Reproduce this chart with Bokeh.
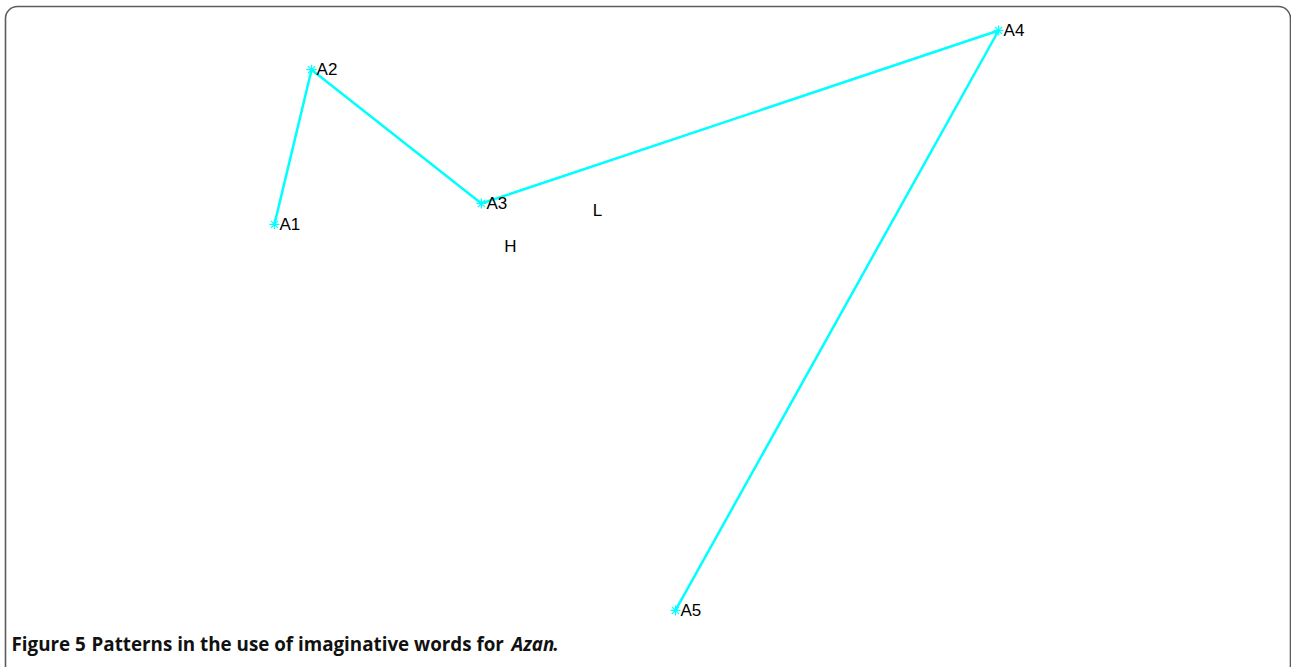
from bokeh.plotting import figure
from bokeh.models import Range1d, BoxAnnotation, ColumnDataSource
from bokeh.core.properties import value
from bokeh.embed import file_html
from bokeh.resources import INLINE

# Two-dimensional configuration of the five pattern points
point_names = ["A1", "A2", "A3", "A4", "A5"]
dim1 = [-0.921, -0.829, -0.408, 0.874, 0.073]
dim2 = [0.263, 0.634, 0.313, 0.728, -0.663]

# Reference markers shown as plain letters
marker_names = ["H", "L"]
marker_dim1 = [-0.336, -0.120]
marker_dim2 = [0.210, 0.296]

caption_parts = ["Figure 5", "Patterns in the use of imaginative words for", "Azan", "."]

W, H = 1291, 667
X0, X1 = -1.6, 1.6
Y0, Y1 = -0.8, 0.8


def sx(px):
    return X0 + (X1 - X0) * px / W


def sy(py):
    return Y1 - (Y1 - Y0) * py / H


p = figure(width=W, height=H, output_backend="svg", toolbar_location=None,
           x_range=Range1d(X0, X1), y_range=Range1d(Y0, Y1),
           min_border=0, min_border_left=0, min_border_right=0,
           min_border_top=0, min_border_bottom=0)
p.axis.visible = False
p.grid.visible = False
p.outline_line_color = None
p.background_fill_color = "white"
p.border_fill_color = "white"

# rounded frame around the figure panel
frame = BoxAnnotation(left=sx(5), right=sx(1290), top=sy(6), bottom=sy(700),
                      fill_alpha=0, line_color="#5c5c5c", line_alpha=1.0,
                      line_width=1.6, border_radius=12)
p.add_layout(frame)

src = ColumnDataSource(dict(x=dim1, y=dim2, name=point_names))
p.line("x", "y", source=src, line_color="#00FFFF", line_width=2.5)
p.scatter("x", "y", source=src, marker="asterisk", size=10,
          line_color="#00FFFF", line_width=1.2)
p.text("x", "y", text="name", source=src, x_offset=5,
       text_font=value("Liberation Sans"), text_font_size="17px",
       text_color="black", text_align="left", text_baseline="middle")

msrc = ColumnDataSource(dict(x=marker_dim1, y=marker_dim2, name=marker_names))
p.text("x", "y", text="name", source=msrc,
       text_font=value("Liberation Sans"), text_font_size="17px",
       text_color="black", text_align="center", text_baseline="middle")

# caption, set in separate runs for the bold and italic parts
cap_font = value("Open Sans")
cap_y = sy(643)
cap_x = [11, 91, 511, 552]
cap_style = ["bold", "bold", "bold italic", "bold"]
for txt, px, st in zip(caption_parts, cap_x, cap_style):
    p.text(x=[sx(px)], y=[cap_y], text=[txt], text_font=cap_font,
           text_font_size="18.8px", text_font_style=st, text_color="#111111",
           text_align="left", text_baseline="alphabetic")

open("out.html", "w").write(file_html(p, INLINE))
